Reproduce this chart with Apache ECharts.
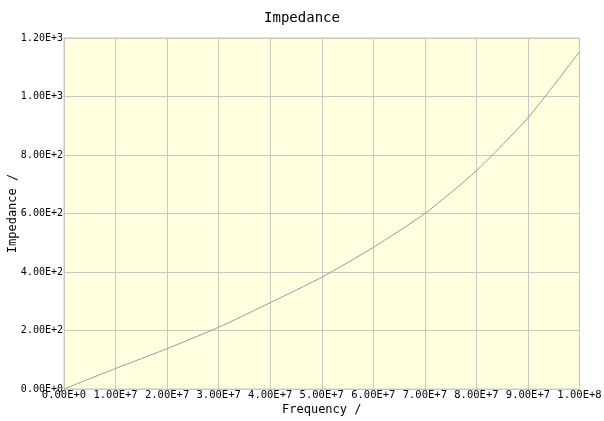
<!DOCTYPE html>
<html>
<head>
<meta charset="utf-8">
<script src="https://cdn.jsdelivr.net/npm/echarts@6/dist/echarts.min.js"></script>
<style>html,body{margin:0;padding:0;background:#fff}#c{width:604px;height:421px}</style>
</head>
<body>
<div id="c"></div>
<script>
const frequency = [0, 1e7, 2e7, 3e7, 4e7, 5e7, 6e7, 7e7, 8e7, 9e7, 1e8];
const impedance = [0, 70, 138, 211, 295, 382, 484, 600, 746, 927, 1153];
const xTickLabels = ['0.00E+0','1.00E+7','2.00E+7','3.00E+7','4.00E+7','5.00E+7','6.00E+7','7.00E+7','8.00E+7','9.00E+7','1.00E+8'];
const yTickLabels = ['0.00E+0','2.00E+2','4.00E+2','6.00E+2','8.00E+2','1.00E+3','1.20E+3'];
const FONT = 'DejaVu Sans Mono';
const chart = echarts.init(document.getElementById('c'));
chart.setOption({
  animation: false,
  title: {
    text: 'Impedance', left: 'center', top: 6,
    textStyle: {fontFamily: FONT, fontSize: 14, fontWeight: 'normal', color: '#000'}
  },
  grid: {
    left: 64, right: 24.5, top: 38, bottom: 32,
    outerBoundsMode: 'none', containLabel: false,
    show: true, backgroundColor: '#FFFFE0', borderColor: '#c8c8c0', borderWidth: 1
  },
  xAxis: {
    type: 'value', min: 0, max: 1e8, interval: 1e7,
    name: 'Frequency /', nameLocation: 'middle', nameGap: 15, nameMoveOverlap: false,
    nameTextStyle: {fontFamily: FONT, fontSize: 12, color: '#000'},
    axisLine: {show: true, lineStyle: {color: '#c8c8c0'}},
    axisTick: {show: false},
    axisLabel: {
      margin: 1, fontFamily: FONT, fontSize: 10.5, color: '#000',
      formatter: v => xTickLabels[Math.round(v / 1e7)]
    },
    splitLine: {show: true, lineStyle: {color: '#c8c8c0', width: 1}}
  },
  yAxis: {
    type: 'value', min: 0, max: 1200, interval: 200,
    name: 'Impedance /', nameLocation: 'middle', nameGap: 45, nameMoveOverlap: false,
    nameTextStyle: {fontFamily: FONT, fontSize: 12, color: '#000'},
    axisLine: {show: true, lineStyle: {color: '#c8c8c0'}},
    axisTick: {show: false},
    axisLabel: {
      margin: 1, fontFamily: FONT, fontSize: 10, color: '#000',
      formatter: v => yTickLabels[Math.round(v / 200)]
    },
    splitLine: {show: true, lineStyle: {color: '#c8c8c0', width: 1}}
  },
  series: [{
    type: 'line', smooth: 0.2, showSymbol: false,
    data: frequency.map((f, i) => [f, impedance[i]]),
    lineStyle: {color: '#9a9a9a', width: 1}
  }]
});
</script>
</body>
</html>
